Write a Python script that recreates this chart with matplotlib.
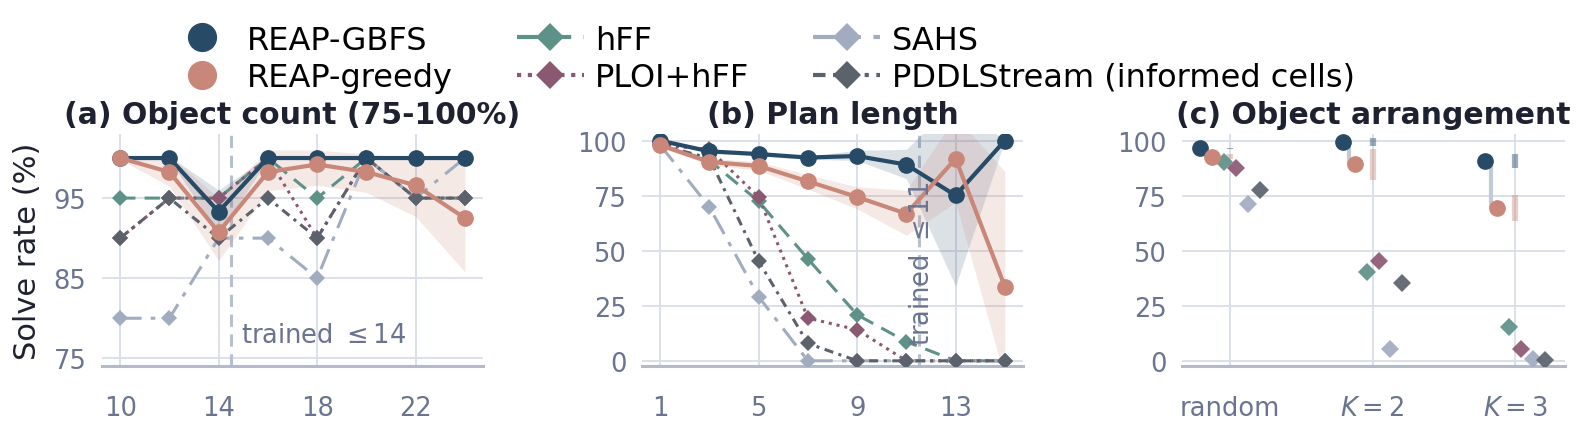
import numpy as np
import matplotlib
matplotlib.use("Agg")
import matplotlib.pyplot as plt
from matplotlib.lines import Line2D

# ---- data ----
obj_counts = [10, 12, 14, 16, 18, 20, 22, 24]
a_gbfs = [100, 100, 93.3, 100, 100, 100, 100, 100]
a_gbfs_lo = [100, 99.8, 90.5, 99.8, 100, 100, 100, 100]
a_gbfs_hi = [100, 100.2, 96, 100.2, 100, 100, 100, 100]
a_greedy = [100, 98.25, 90.75, 98.25, 99.2, 98.25, 96.6, 92.5]
a_greedy_lo = [99.8, 96.5, 87.2, 95.9, 96.6, 95.7, 92.7, 85.8]
a_greedy_hi = [100.3, 100.3, 95, 101, 101, 100.5, 100, 100]
a_hff = [95, 95, 95, 100, 95, 100, 95, 95]
a_ploi = [90, 95, 95, 100, 90, 100, 95, 95]
a_sahs = [80, 80, 90, 90, 85, 100, 95, 100]
a_pddl = [90, 95, 90, 95, 90, 100, 95, 95]

plan_len = [1, 3, 5, 7, 9, 11, 13, 15]
b_gbfs = [100, 95.1, 93.9, 92.3, 93.0, 89.1, 75.1, 100]
b_gbfs_lo = [100, 94.5, 93, 91.5, 91, 82.7, 34, 100]
b_gbfs_hi = [100, 95.7, 94.8, 93, 95.6, 96, 118, 100]
b_greedy = [97.9, 90.3, 88.5, 81.5, 74.4, 66.8, 91.8, 33.7]
b_greedy_lo = [97, 89, 86.5, 78, 69, 57, 72, -8]
b_greedy_hi = [99, 92, 90.5, 84.5, 79, 77.5, 111, 86]
b_hff = [98, 91, 72.4, 46.3, 20.9, 8.7, 0, 0]
b_ploi = [98, 96, 74.4, 19.4, 14.1, 0, 0, 0]
b_sahs = [98, 69.8, 29.1, 0, 0, 0, 0, 0]
b_pddl = [98, 92, 45.2, 7.9, 0, 0, 0, 0]

arrangements = ['random', '$K=2$', '$K=3$']
c_gbfs = [96.5, 99.4, 90.9]
c_gbfs_lo = [96.3, 97.6, 87.6]
c_gbfs_hi = [96.7, 101, 94]
c_greedy = [92.7, 89.2, 69.6]
c_greedy_lo = [91.5, 82, 63.7]
c_greedy_hi = [94, 96.4, 75.4]
c_hff = [90.3, 40.2, 15.2]
c_ploi = [87.6, 45.2, 5.3]
c_sahs = [71.3, 5.3, 0.8]
c_pddl = [77.7, 35.2, 0.3]

# ---- styles ----
C_GBFS = '#274a66'
C_GREEDY = '#c98779'
C_HFF = '#5e9188'
C_PLOI = '#8b5872'
C_SAHS = '#a1acbf'
C_PDDL = '#5b626c'
GRID = '#d9dde6'
SPINE = '#b3bbca'
TICK = '#6a7390'
TITLE = '#1e2130'

baselines = [
    ('hFF', C_HFF, (0, (5, 3))),
    ('PLOI+hFF', C_PLOI, (0, (1, 1.6))),
    ('SAHS', C_SAHS, (0, (7, 3, 1.5, 3))),
    ('PDDLStream (informed cells)', C_PDDL, (0, (3, 1.8, 1, 1.8))),
]

fig = plt.figure(figsize=(15.9, 4.31), dpi=100)
W, H = 1590, 431
ax_bottom = 1 - 367.3 / H
ax_h = 232.3 / H
ax_w = 381.6 / W
ax_a = fig.add_axes([101.7 / W, ax_bottom, ax_w, ax_h])
ax_b = fig.add_axes([641.7 / W, ax_bottom, ax_w, ax_h])
ax_c = fig.add_axes([1181.7 / W, ax_bottom, ax_w + 1.5 / W, ax_h])


def style_axis(ax):
    for s in ['top', 'right', 'left']:
        ax.spines[s].set_visible(False)
    ax.spines['bottom'].set_color(SPINE)
    ax.spines['bottom'].set_linewidth(2.2)
    ax.grid(True, color=GRID, linewidth=1.3)
    ax.set_axisbelow(True)
    ax.tick_params(axis='x', length=0, pad=21, labelsize=18.5, labelcolor=TICK)
    ax.tick_params(axis='y', length=0, pad=11, labelsize=18.5, labelcolor=TICK)


def draw_lines(ax, x, gbfs, gbfs_lo, gbfs_hi, greedy, greedy_lo, greedy_hi, base):
    for (name, col, ls), vals in zip(baselines, base):
        ax.plot(x, vals, color=col, linestyle=ls, linewidth=2.2, marker='D',
                markersize=8, markeredgewidth=0, zorder=3)
    ax.fill_between(x, gbfs_lo, gbfs_hi, color=C_GBFS, alpha=0.16, linewidth=0, zorder=2)
    ax.fill_between(x, greedy_lo, greedy_hi, color=C_GREEDY, alpha=0.18, linewidth=0, zorder=2)
    ax.plot(x, gbfs, color=C_GBFS, linewidth=3, marker='o', markersize=11, zorder=4)
    ax.plot(x, greedy, color=C_GREEDY, linewidth=3, marker='o', markersize=11, zorder=5)


# (a) object count
style_axis(ax_a)
draw_lines(ax_a, obj_counts, a_gbfs, a_gbfs_lo, a_gbfs_hi,
           a_greedy, a_greedy_lo, a_greedy_hi, [a_hff, a_ploi, a_sahs, a_pddl])
ax_a.set_xlim(9.25, 24.75)
ax_a.set_ylim(74, 103)
ax_a.set_xticks([10, 14, 18, 22])
ax_a.set_yticks([75, 85, 95])
ax_a.axvline(14.5, color='#b8c0cf', linewidth=2.2, linestyle=(0, (4, 2.5)), zorder=1)
ax_a.text(14.9, 76.3, 'trained $\\leq 14$', fontsize=18.5, color=TICK, ha='left', va='bottom')
ax_a.set_title('(a) Object count (75-100%)', fontsize=21.5, fontweight='bold', color=TITLE, pad=8)
ax_a.set_ylabel('Solve rate (%)', fontsize=22, color=TITLE, labelpad=8)

# (b) plan length
style_axis(ax_b)
draw_lines(ax_b, plan_len, b_gbfs, b_gbfs_lo, b_gbfs_hi,
           b_greedy, b_greedy_lo, b_greedy_hi, [b_hff, b_ploi, b_sahs, b_pddl])
ax_b.set_xlim(0.25, 15.75)
ax_b.set_ylim(-2.5, 103)
ax_b.set_xticks([1, 5, 9, 13])
ax_b.set_yticks([0, 25, 50, 75, 100])
ax_b.axvline(11.5, color='#b8c0cf', linewidth=2.2, linestyle=(0, (4, 2.5)), zorder=1)
ax_b.text(11.62, 7, 'trained $\\leq 11$', fontsize=18.5, color=TICK, rotation=90,
          ha='center', va='bottom', zorder=6)
ax_b.set_title('(b) Plan length', fontsize=21.5, fontweight='bold', color=TITLE, pad=8)

# (c) object arrangement
style_axis(ax_c)
cat = np.arange(len(arrangements))
offsets = [-0.21, -0.126, -0.042, 0.042, 0.126, 0.21]
ax_c.vlines(cat + (offsets[0] + offsets[1]) / 2, c_greedy, c_gbfs, color='#c2cad6',
            linewidth=3, zorder=2)
ax_c.vlines(cat, c_gbfs_lo, c_gbfs_hi, color=C_GBFS, alpha=0.45, linewidth=4.5, zorder=2)
ax_c.vlines(cat, c_greedy_lo, c_greedy_hi, color=C_GREEDY, alpha=0.4, linewidth=4.5, zorder=2)
ax_c.plot(cat + offsets[0], c_gbfs, linestyle='none', marker='o', markersize=11,
          color=C_GBFS, zorder=4)
ax_c.plot(cat + offsets[1], c_greedy, linestyle='none', marker='o', markersize=11,
          color=C_GREEDY, zorder=4)
for (name, col, ls), vals, off in zip(baselines, [c_hff, c_ploi, c_sahs, c_pddl], offsets[2:]):
    ax_c.plot(cat + off, vals, linestyle='none', marker='D', markersize=9.5,
              markeredgewidth=0, color=col, alpha=0.92, zorder=3)
ax_c.set_xlim(-0.34, 2.35)
ax_c.set_ylim(-2.5, 103)
ax_c.set_xticks(cat)
ax_c.set_xticklabels(arrangements)
ax_c.set_yticks([0, 25, 50, 75, 100])
ax_c.set_title('(c) Object arrangement', fontsize=21.5, fontweight='bold', color=TITLE, pad=8)

# legend
handles = [
    Line2D([], [], color=C_GBFS, linestyle='none', marker='o', markersize=20),
    Line2D([], [], color=C_GREEDY, linestyle='none', marker='o', markersize=20),
]
for name, col, ls in baselines:
    handles.append(Line2D([], [], color=col, linestyle=ls, linewidth=3, marker='D',
                          markersize=14, markeredgewidth=0))
labels = ['REAP-GBFS', 'REAP-greedy'] + [b[0] for b in baselines]
fig.legend(handles, labels, loc='upper center', bbox_to_anchor=(0.479, 1.0), ncol=3,
           frameon=False, fontsize=23, columnspacing=2.0, handlelength=2.1,
           handletextpad=0.35, labelspacing=0.2, borderpad=0.3)

fig.savefig('out.png', dpi=100)
